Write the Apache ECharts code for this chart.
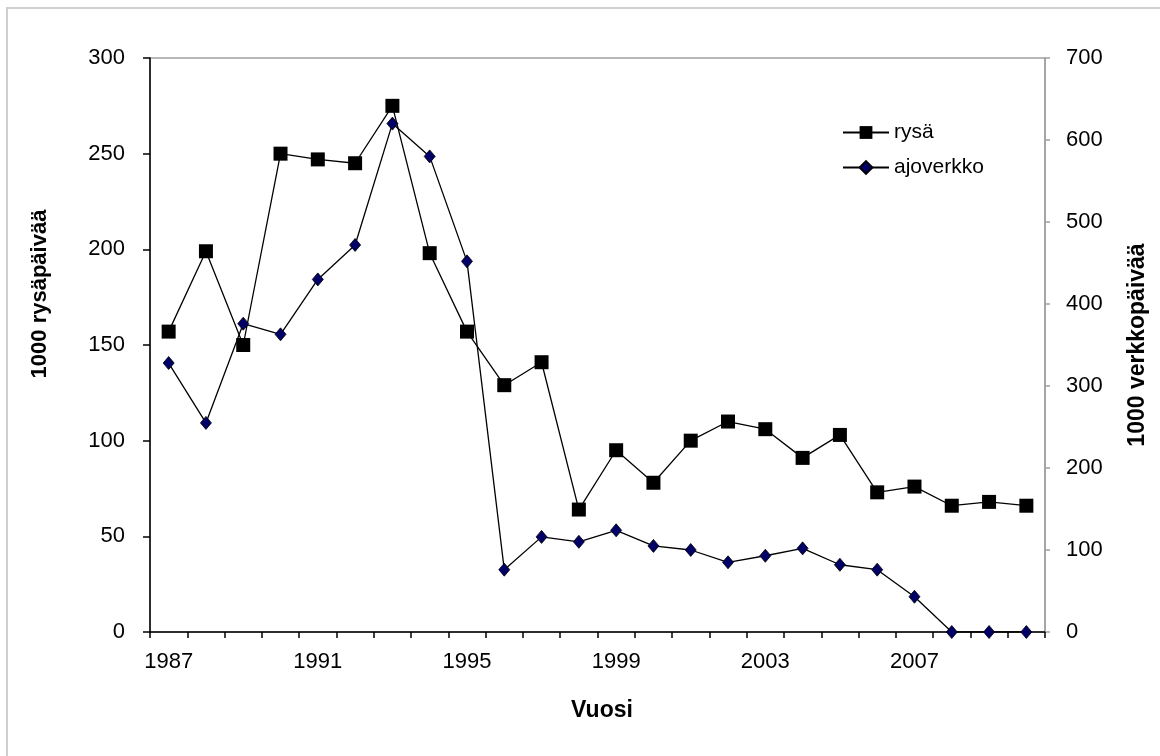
<!DOCTYPE html>
<html>
<head>
<meta charset="utf-8">
<script src="https://cdn.jsdelivr.net/npm/echarts@6/dist/echarts.min.js"></script>
<style>
html,body{margin:0;padding:0;background:#fff;}
#chart{width:1160px;height:756px;}
</style>
</head>
<body>
<div id="chart"></div>
<script>
var years = ['1987','1988','1989','1990','1991','1992','1993','1994','1995','1996','1997','1998','1999','2000','2001','2002','2003','2004','2005','2006','2007','2008','2009','2010'];
var rysa = [157, 199, 150, 250, 247, 245, 275, 198, 157, 129, 141, 64, 95, 78, 100, 110, 106, 91, 103, 73, 76, 66, 68, 66];
var ajoverkko = [328, 255, 376, 363, 430, 472, 620, 580, 452, 76, 116, 110, 124, 105, 100, 85, 93, 102, 82, 76, 43, 0, 0, 0];
var leftTicks = {min: 0, max: 300, interval: 50};
var rightTicks = {min: 0, max: 700, interval: 100};

var FONT = '"Liberation Sans", Arial, sans-serif';
var chart = echarts.init(document.getElementById('chart'), null, {renderer: 'canvas'});
chart.setOption({
  animation: false,
  backgroundColor: '#fff',
  textStyle: {fontFamily: FONT},
  grid: {left: 150, right: 115, top: 58, bottom: 124, show: true, borderColor: '#a0a0a0', borderWidth: 1.5},
  graphic: [
    {type: 'rect', shape: {x: 7, y: 8, width: 1200, height: 800}, style: {fill: 'none', stroke: '#cfcfcf', lineWidth: 2}, silent: true, z: -1},
    {type: 'text', x: 40, y: 294, rotation: Math.PI / 2, style: {text: '1000 rysäpäivää', font: 'bold 22px ' + FONT, fill: '#000', align: 'center', verticalAlign: 'middle'}},
    {type: 'text', x: 1138, y: 345, rotation: Math.PI / 2, style: {text: '1000 verkkopäivää', font: 'bold 23px ' + FONT, fill: '#000', align: 'center', verticalAlign: 'middle'}},
    {type: 'text', x: 602, y: 711, style: {text: 'Vuosi', font: 'bold 23px ' + FONT, fill: '#000', align: 'center', verticalAlign: 'middle'}}
  ],
  legend: {
    data: ['rysä', 'ajoverkko'],
    orient: 'vertical',
    left: 837, top: 117,
    itemWidth: 46, itemHeight: 16, itemGap: 14,
    textStyle: {fontSize: 21, color: '#000', fontFamily: FONT}
  },
  xAxis: {
    type: 'category',
    data: years,
    boundaryGap: true,
    axisLine: {lineStyle: {color: '#000', width: 1.5}},
    axisTick: {show: true, interval: 0, length: 6, lineStyle: {color: '#000', width: 1.5}},
    axisLabel: {interval: 3, fontSize: 22, color: '#000', margin: 19, fontFamily: FONT},
    splitLine: {show: false}
  },
  yAxis: [
    {
      type: 'value', position: 'left',
      min: leftTicks.min, max: leftTicks.max, interval: leftTicks.interval,
      axisLine: {show: true, lineStyle: {color: '#000', width: 1.5}},
      axisTick: {show: true, length: 7, lineStyle: {color: '#000', width: 1.5}},
      axisLabel: {fontSize: 22, color: '#000', margin: 25, fontFamily: FONT},
      splitLine: {show: false}
    },
    {
      type: 'value', position: 'right',
      min: rightTicks.min, max: rightTicks.max, interval: rightTicks.interval,
      axisLine: {show: true, lineStyle: {color: '#a0a0a0', width: 1.5}},
      axisTick: {show: true, length: 5, lineStyle: {color: '#a0a0a0', width: 1.5}},
      axisLabel: {fontSize: 22, color: '#000', margin: 21, fontFamily: FONT},
      splitLine: {show: false}
    }
  ],
  series: [
    {
      name: 'rysä', type: 'line', yAxisIndex: 0, data: rysa,
      symbol: 'rect', symbolSize: 14,
      lineStyle: {color: '#000', width: 1.3},
      itemStyle: {color: '#000', borderColor: '#000', borderWidth: 0},
      z: 3
    },
    {
      name: 'ajoverkko', type: 'line', yAxisIndex: 1, data: ajoverkko,
      symbol: 'diamond', symbolSize: [11, 13],
      lineStyle: {color: '#000', width: 1.3},
      itemStyle: {color: '#000066', borderColor: '#000', borderWidth: 0.8},
      z: 4
    }
  ]
});
</script>
</body>
</html>
